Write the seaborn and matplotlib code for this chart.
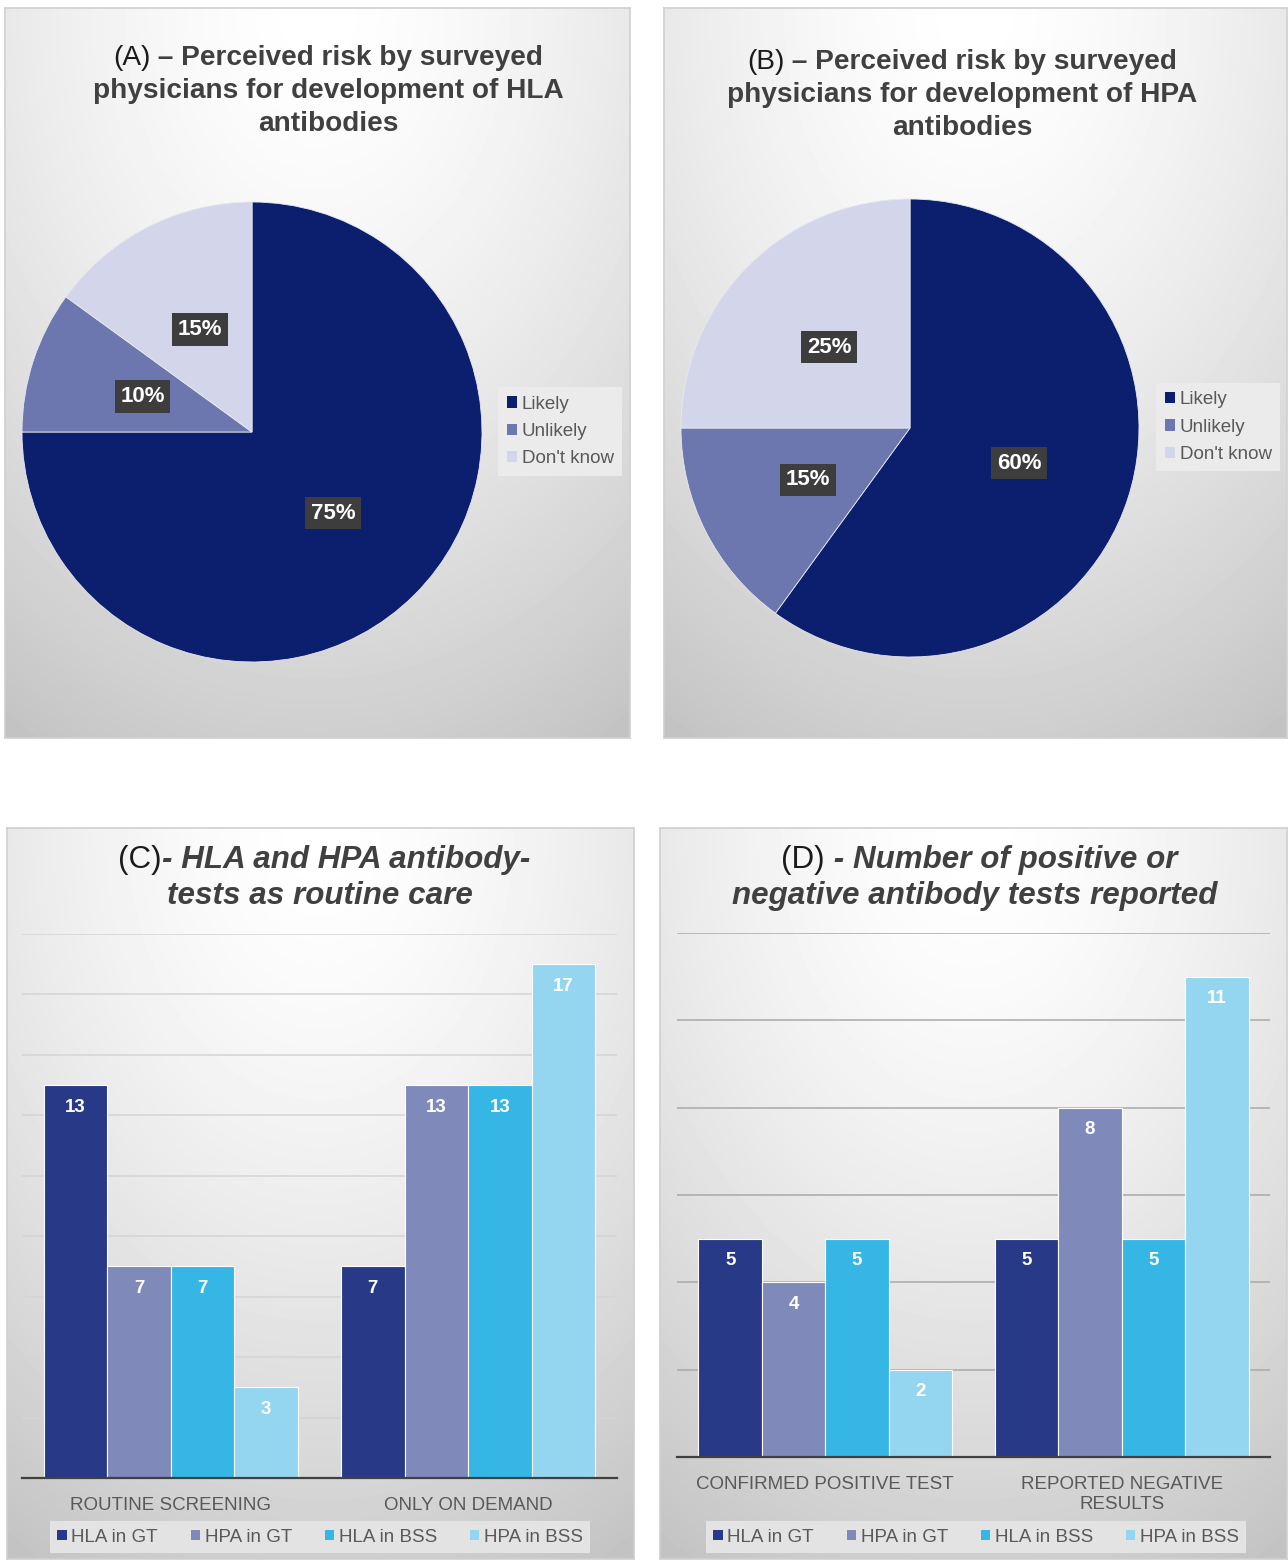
import numpy as np
import pandas as pd
import matplotlib
matplotlib.use("Agg")
import matplotlib.pyplot as plt
from matplotlib.patches import Patch
from matplotlib.transforms import IdentityTransform
import seaborn as sns

# ---------------- data ----------------
pie_labels = ["Likely", "Unlikely", "Don't know"]
pie_a_values = [75, 10, 15]
pie_b_values = [60, 15, 25]
pie_colors = ["#0c1f6e", "#6b77ae", "#d3d6ea"]

series = ["HLA in GT", "HPA in GT", "HLA in BSS", "HPA in BSS"]
bar_colors = ["#283a87", "#7f89ba", "#35b6e5", "#94d6f0"]

c_categories = ["ROUTINE SCREENING", "ONLY ON DEMAND"]
c_values = {"HLA in GT": [13, 7], "HPA in GT": [7, 13],
            "HLA in BSS": [7, 13], "HPA in BSS": [3, 17]}

d_categories = ["CONFIRMED POSITIVE TEST", "REPORTED NEGATIVE\nRESULTS"]
d_values = {"HLA in GT": [5, 5], "HPA in GT": [4, 8],
            "HLA in BSS": [5, 5], "HPA in BSS": [2, 11]}

# ---------------- style ----------------
sns.set_style("white")
plt.rcParams["font.family"] = ["Liberation Sans", "DejaVu Sans"]

W, H = 1288, 1560
fig = plt.figure(figsize=(W / 100, H / 100), dpi=100)
renderer = fig.canvas.get_renderer()


def rect_px(x0, y0, x1, y1):
    """image-pixel rectangle (top-left origin) -> figure fraction rect"""
    return [x0 / W, 1 - y1 / H, (x1 - x0) / W, (y1 - y0) / H]


def panel_bg(x0, y0, x1, y1):
    ax = fig.add_axes(rect_px(x0, y0, x1, y1), zorder=-5)
    ny, nx = 200, 200
    xx, yy = np.meshgrid(np.linspace(-1, 1, nx), np.linspace(0, 1, ny))
    d = np.sqrt((xx * 0.6) ** 2 + (yy * 1.0) ** 2)
    val = 1.0 - 0.19 * np.clip(d, 0, 1.2) ** 1.5
    ax.imshow(val, cmap="gray", vmin=0, vmax=1, aspect="auto",
              extent=[0, 1, 1, 0], interpolation="bilinear")
    ax.set_xlim(0, 1)
    ax.set_ylim(1, 0)
    ax.set_xticks([])
    ax.set_yticks([])
    for s in ax.spines.values():
        s.set_color("#d0d0d0")
        s.set_linewidth(1.2)
    return ax


def styled_line(pieces, cx, cy, size):
    texts = []
    for s, kw in pieces:
        t = fig.text(0, H - cy, s, fontsize=size, va="center", ha="left",
                     transform=IdentityTransform(), **kw)
        texts.append(t)
    widths = [t.get_window_extent(renderer).width for t in texts]
    x = cx - sum(widths) / 2
    for t, w in zip(texts, widths):
        t.set_x(x)
        x += w


TITLE_COL = "#404040"
reg = dict(color="#1a1a1a", fontweight="normal")
bold = dict(color=TITLE_COL, fontweight="bold")
bi = dict(color=TITLE_COL, fontweight="bold", fontstyle="italic")

# ---------------- panel backgrounds ----------------
panel_bg(5, 8, 630, 738)
panel_bg(664, 8, 1287, 738)
panel_bg(7, 828, 634, 1559)
panel_bg(660, 828, 1287, 1559)

# ---------------- pies ----------------
def draw_pie(values, cx, cy, r, legend_box):
    ax = fig.add_axes(rect_px(cx - r, cy - r, cx + r, cy + r))
    wedges, texts, autotexts = ax.pie(
        values, colors=pie_colors, startangle=90, counterclock=False,
        autopct="%d%%", pctdistance=0.5,
        wedgeprops=dict(linewidth=0.6, edgecolor="#e8e8ee"))
    ax.set_xlim(-1, 1)
    ax.set_ylim(-1, 1)
    for at in autotexts:
        at.set_color("white")
        at.set_fontweight("bold")
        at.set_fontsize(16)
        at.set_bbox(dict(boxstyle="square,pad=0.25", fc="#3d3d3d", ec="none"))
    handles = [Patch(facecolor=c, edgecolor="none") for c in pie_colors]
    lx0, ly0, lx1, ly1 = legend_box
    leg = fig.legend(handles, pie_labels, loc="center",
                     bbox_to_anchor=((lx0 + lx1) / 2 / W, 1 - (ly0 + ly1) / 2 / H),
                     fontsize=13.5, frameon=True, fancybox=False,
                     facecolor="#ebebeb", edgecolor="none", framealpha=1,
                     handlelength=0.55, handleheight=0.55, handletextpad=0.25,
                     labelspacing=0.55, borderpad=0.45)
    for t in leg.get_texts():
        t.set_color("#595959")
    return ax


draw_pie(pie_a_values, 252, 432, 230, (500, 386, 620, 477))
draw_pie(pie_b_values, 910, 428, 229, (1158, 382, 1278, 472))

TS = 20.2
styled_line([("(A)", reg), (" – Perceived risk by surveyed", bold)], 328, 58, TS)
styled_line([("physicians for development of HLA", bold)], 328, 91, TS)
styled_line([("antibodies", bold)], 328, 124, TS)

styled_line([("(B)", reg), (" – Perceived risk by surveyed", bold)], 962, 62, TS)
styled_line([("physicians for development of HPA", bold)], 962, 95, TS)
styled_line([("antibodies", bold)], 962, 128, TS)

TS2 = 22.6
styled_line([("(C)", reg), ("- HLA and HPA antibody-", bi)], 324, 860, TS2)
styled_line([("tests as routine care", bi)], 320, 896, TS2)
styled_line([("(D)", reg), (" - Number of positive or", bi)], 979, 860, TS2)
styled_line([("negative antibody tests reported", bi)], 975, 896, TS2)

# ---------------- bars ----------------
def draw_bars(categories, values, box, ymax, grid_col, legend_center):
    rows = []
    for s in series:
        for cat, v in zip(categories, values[s]):
            rows.append(dict(category=cat, series=s, value=v))
    df = pd.DataFrame(rows)
    ax = fig.add_axes(rect_px(*box))
    ax.set_facecolor("none")
    sns.barplot(data=df, x="category", y="value", hue="series",
                hue_order=series, order=categories,
                palette=bar_colors, saturation=1, width=0.855,
                edgecolor="white", linewidth=0.8, ax=ax, legend=False,
                zorder=3)
    ax.set_xlim(-0.5, 1.5)
    ax.set_ylim(0, ymax)
    ax.set_yticks(np.arange(0, ymax + 1, 2))
    ax.set_yticklabels([])
    ax.yaxis.grid(True, color=grid_col, linewidth=1.1, zorder=0)
    ax.set_axisbelow(True)
    ax.tick_params(axis="both", length=0)
    ax.tick_params(axis="x", pad=14, labelsize=13.5, labelcolor="#595959")
    ax.set_xlabel("")
    ax.set_ylabel("")
    for side in ["top", "left", "right"]:
        ax.spines[side].set_visible(False)
    ax.spines["bottom"].set_color("#404040")
    ax.spines["bottom"].set_linewidth(1.6)
    ax.spines["bottom"].set_zorder(5)
    for cont in ax.containers:
        ax.bar_label(cont, fmt="%d", padding=-22, color="white",
                     fontweight="bold", fontsize=13.5)
    handles = [Patch(facecolor=c, edgecolor="none") for c in bar_colors]
    leg = fig.legend(handles, series, loc="center", ncol=4,
                     bbox_to_anchor=(legend_center[0] / W, 1 - legend_center[1] / H),
                     fontsize=13.5, frameon=True, fancybox=False,
                     facecolor="#e3e3e3", edgecolor="none", framealpha=1,
                     handlelength=0.5, handleheight=0.5, handletextpad=0.25,
                     columnspacing=1.75, borderpad=0.38, borderaxespad=0)
    leg._legend_box.sep = 0
    for t in leg.get_texts():
        t.set_color("#595959")
    return ax


draw_bars(c_categories, c_values, (22, 934, 617, 1478), 18, "#d4d4d4", (320, 1537))
draw_bars(d_categories, d_values, (677, 933, 1270, 1457), 12, "#a9a9a9", (976, 1537))

fig.savefig("out.png", dpi=100, facecolor="white")
